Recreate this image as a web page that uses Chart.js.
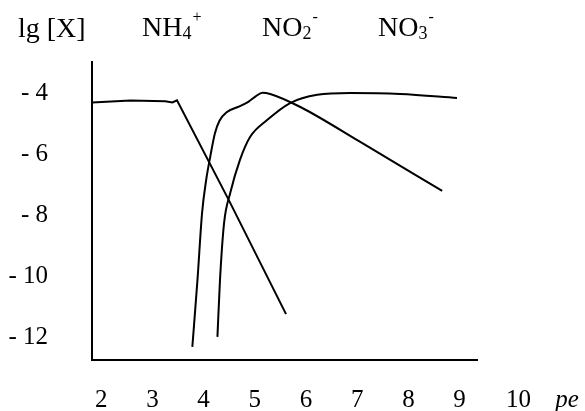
<!DOCTYPE html>
<html>
<head>
<meta charset="utf-8">
<title>lg [X] - pe</title>
<script src="https://cdn.jsdelivr.net/npm/chart.js@4"></script>
<style>
  html, body { margin: 0; padding: 0; background: #fff; }
  #wrap { width: 585px; height: 411px; }
</style>
</head>
<body>
<div id="wrap"><canvas id="chart"></canvas></div>
<script>
// axis ticks
var peTicks = [2, 3, 4, 5, 6, 7, 8, 9];
var lgTicks = [-4, -6, -8, -10, -12];

// curves, [pe, lg[X]]
var nh4 = [[1.82, -4.28], [2.57, -4.22], [3.25, -4.24], [3.39, -4.28], [3.48, -4.21],
           [4.48, -7.45], [5.61, -11.24]];
var no2 = [[3.78, -12.32], [3.88, -10.12], [3.97, -7.91], [4.05, -6.83], [4.13, -6.06],
           [4.22, -5.3], [4.31, -4.88], [4.45, -4.6], [4.71, -4.4], [4.88, -4.25],
           [5.01, -4.09], [5.15, -3.96], [5.3, -4.0], [5.89, -4.43], [7.06, -5.58], [8.66, -7.19]];
var no3 = [[4.27, -11.99], [4.32, -10.12], [4.4, -8.24], [4.52, -7.26], [4.71, -6.17],
           [4.91, -5.41], [5.24, -4.86], [5.69, -4.3], [6.22, -4.03], [6.86, -3.97],
           [7.84, -4.0], [8.95, -4.13]];

var serif = '"Liberation Serif", "Times New Roman", serif';
var tickSize = 25;
var xPad = 25;

function pts(arr) {
  return arr.map(function (p) { return { x: p[0], y: p[1] }; });
}

function line(arr, smooth) {
  return {
    data: pts(arr),
    borderColor: '#000',
    borderWidth: 2,
    pointRadius: 0,
    fill: false,
    tension: 0,
    cubicInterpolationMode: smooth ? 'monotone' : 'default'
  };
}

// formula with subscript and superscript
function chem(ctx, x, y, main, sub, sup) {
  ctx.font = '28px ' + serif;
  ctx.fillText(main, x, y);
  x += ctx.measureText(main).width;
  ctx.font = '18px ' + serif;
  ctx.fillText(sub, x, y + 3);
  x += ctx.measureText(sub).width + 1;
  ctx.font = '16px ' + serif;
  ctx.fillText(sup, x, y - 14);
}

var textPlugin = {
  id: 'texts',
  afterDraw: function (chart) {
    var ctx = chart.ctx;
    var xs = chart.scales.x;
    ctx.save();
    ctx.fillStyle = '#000';
    ctx.textAlign = 'left';
    ctx.textBaseline = 'alphabetic';
    ctx.font = '28px ' + serif;
    ctx.fillText('lg [X]', 18, 37);
    chem(ctx, 142, 36, 'NH', '4', '+');
    chem(ctx, 262, 36, 'NO', '2', '-');
    chem(ctx, 378, 36, 'NO', '3', '-');

    // labels past the end of the drawn axis, same line as the ticks
    var y = xs.top + xPad + tickSize * 0.6;
    ctx.textAlign = 'center';
    ctx.textBaseline = 'middle';
    ctx.font = tickSize + 'px ' + serif;
    ctx.fillText('10', xs.getPixelForValue(10.15), y);
    ctx.font = 'italic ' + tickSize + 'px ' + serif;
    ctx.fillText('pe', xs.getPixelForValue(11.1), y);
    ctx.restore();
  }
};

var chart = new Chart(document.getElementById('chart'), {
  type: 'line',
  data: {
    datasets: [line(nh4, false), line(no2, true), line(no3, true)]
  },
  options: {
    responsive: true,
    maintainAspectRatio: false,
    animation: false,
    layout: { padding: { top: 62, right: 108, left: 0, bottom: 0 } },
    plugins: { legend: { display: false }, tooltip: { enabled: false } },
    scales: {
      x: {
        type: 'linear',
        min: 1.82,
        max: 9.34,
        grid: { display: false, drawTicks: false },
        border: { display: true, color: '#000', width: 2 },
        afterBuildTicks: function (s) { s.ticks = peTicks.map(function (v) { return { value: v }; }); },
        afterFit: function (s) { s.height = 51; },
        ticks: {
          padding: xPad,
          color: '#000',
          maxRotation: 0,
          autoSkip: false,
          font: { family: serif, size: tickSize },
          callback: function (v) { return String(v); }
        }
      },
      y: {
        type: 'linear',
        min: -12.75,
        max: -2.95,
        grid: { display: false, drawTicks: false },
        border: { display: true, color: '#000', width: 2 },
        afterBuildTicks: function (s) { s.ticks = lgTicks.map(function (v) { return { value: v }; }); },
        // big tick padding would otherwise push the chart area up
        afterFit: function (s) { s.width = 92; s.paddingTop = 0; s.paddingBottom = 0; },
        ticks: {
          padding: 44,
          color: '#000',
          autoSkip: false,
          font: { family: serif, size: tickSize },
          callback: function (v) { return '- ' + Math.abs(v); }
        }
      }
    }
  },
  plugins: [textPlugin]
});
</script>
</body>
</html>
